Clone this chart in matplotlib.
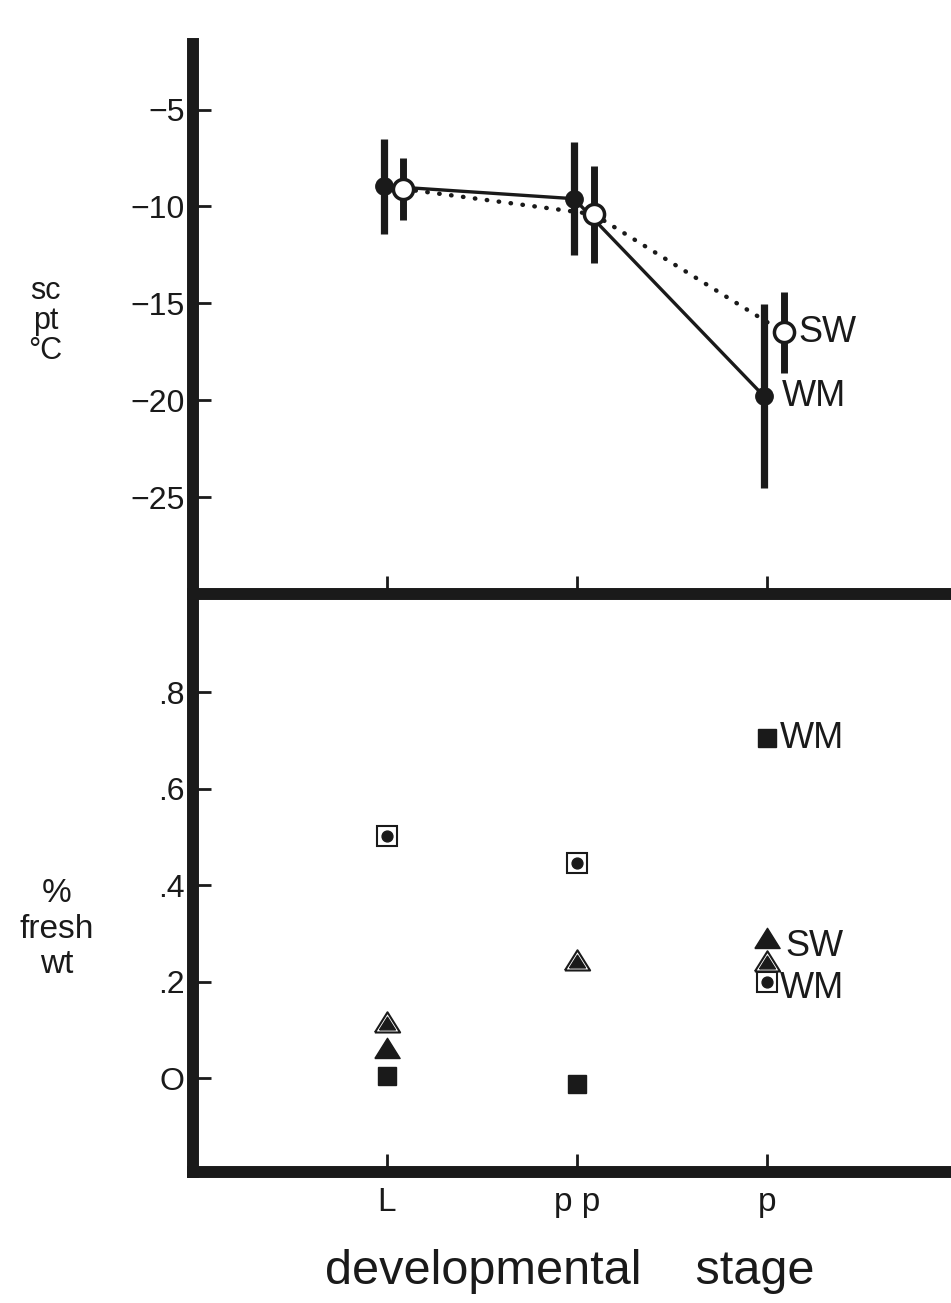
import matplotlib
matplotlib.use("Agg")
from matplotlib import pyplot as plt
import numpy as np

plt.rcParams['font.family'] = ['Liberation Sans', 'DejaVu Sans']

stages = ["L", "p p", "p"]
stage_x = [1, 2, 3]

# supercooling point, deg C
wm_sc = [-8.95, -9.6, -19.8]
wm_err = [2.45, 2.9, 4.75]
sw_sc = [-9.1, -10.4, -16.5]
sw_err = [1.6, 2.5, 2.1]

# % fresh weight
sq_filled = [0.006, -0.011, 0.705]
tri_filled = [0.056, np.nan, 0.284]
tri_double = [0.111, 0.240, 0.238]
sq_dot = [0.503, 0.446, 0.200]

top_ticks = [-5, -10, -15, -20, -25]
top_labels = ["\u22125", "\u221210", "\u221215", "\u221220", "\u221225"]
bot_ticks = [0.8, 0.6, 0.4, 0.2, 0.0]
bot_labels = [".8", ".6", ".4", ".2", "O"]

ink = "#1a1a1a"

# triangle with its incentre at the origin, so inner/outer triangles nest evenly
tri = [(-1, -0.554), (1, -0.554), (0, 1.046), (-1, -0.554)]

fig = plt.figure(figsize=(9.51, 13.03), dpi=100)
ax1 = fig.add_axes([0.203, 0.5441, 0.797, 0.4221])
ax2 = fig.add_axes([0.203, 0.1009, 0.797, 0.4432])

for ax in (ax1, ax2):
    ax.set_xlim(-0.019, 3.968)
    ax.spines["right"].set_visible(False)
    ax.spines["top"].set_visible(False)
    for s in ("left", "bottom"):
        ax.spines[s].set_linewidth(8.6)
        ax.spines[s].set_color(ink)
        ax.spines[s].set_capstyle("projecting")
    ax.set_xticks(stage_x)
    ax.tick_params(axis="both", direction="in", length=13, width=2, color=ink,
                   labelcolor=ink)
    ax.tick_params(axis="y", pad=6, labelsize=23)
    ax.tick_params(axis="x", pad=11, labelsize=24)
    ax.patch.set_alpha(0)

# top panel
ax1.set_ylim(-30, -1.62)
ax1.set_yticks(top_ticks)
ax1.set_yticklabels(top_labels)
ax1.set_xticklabels([])

x_wm = [x - 0.015 for x in stage_x]
x_sw = [x + 0.088 for x in stage_x]

ax1.plot(x_wm, wm_sc, "-", color=ink, lw=2.4, zorder=2)
ax1.errorbar(x_wm, wm_sc, yerr=wm_err, fmt="o", ms=12.5, color=ink,
             elinewidth=5.2, capsize=0, zorder=3)
ax1.plot(x_sw, sw_sc, color=ink, lw=3.2, linestyle=(0, (0.1, 2.6)),
         dash_capstyle="round", zorder=2)
ax1.errorbar(x_sw, sw_sc, yerr=sw_err, fmt="o", ms=14.5, mfc="white", mec=ink,
             mew=2.5, color=ink, elinewidth=5.0, capsize=0, zorder=4)

ax1.text(3.165, -16.5, "SW", fontsize=26, va="center", ha="left", color=ink)
ax1.text(3.08, -19.8, "WM", fontsize=26, va="center", ha="left", color=ink)

# bottom panel
ax2.set_ylim(-0.193, 1.004)
ax2.set_yticks(bot_ticks)
ax2.set_yticklabels(bot_labels)
ax2.set_xticklabels(stages)

ax2.plot(stage_x, sq_filled, "s", ms=13.5, color=ink, ls="none", zorder=3)
ax2.plot(stage_x, tri_filled, marker=tri, ms=19, color=ink, ls="none", zorder=3)
ax2.plot(stage_x, tri_double, marker=tri, ms=19, mfc="white", mec=ink,
         mew=1.5, ls="none", zorder=3)
ax2.plot(stage_x, tri_double, marker=tri, ms=12, color=ink, ls="none", zorder=4)
ax2.plot(stage_x, sq_dot, "s", ms=14, mfc="white", mec=ink, mew=1.5,
         ls="none", zorder=3)
ax2.plot(stage_x, sq_dot, "o", ms=7.8, color=ink, ls="none", zorder=4)

ax2.text(3.07, 0.705, "WM", fontsize=26, va="center", ha="left", color=ink)
ax2.text(3.097, 0.274, "SW", fontsize=26, va="center", ha="left", color=ink)
ax2.text(3.07, 0.187, "WM", fontsize=26, va="center", ha="left", color=ink)

# axis titles
fig.text(0.048, 0.754, "sc\npt\n\u00b0C", fontsize=22, ha="center", va="center",
         linespacing=1.0, color=ink)
fig.text(0.060, 0.287, "%\nfresh\nwt", fontsize=24, ha="center", va="center",
         linespacing=1.2, color=ink)
fig.text(0.599, 0.024, "developmental    stage", fontsize=35, ha="center",
         va="center", color=ink)

fig.savefig("out.png", dpi=100)
